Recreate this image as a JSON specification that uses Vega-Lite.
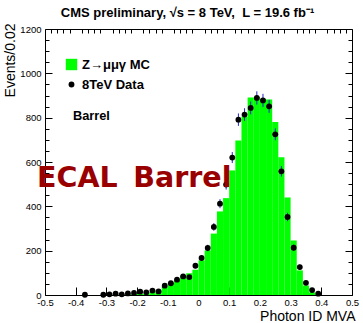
{
  "$schema": "https://vega.github.io/schema/vega-lite/v6.json",
  "width": 307,
  "height": 266,
  "autosize": {"type": "none"},
  "padding": {"left": 45, "top": 29, "right": 11, "bottom": 28},
  "background": "white",
  "view": {"stroke": "black", "strokeWidth": 1},
  "config": {"font": "Liberation Sans"},
  "title": {"text": "CMS preliminary, √s = 8 TeV,\u00a0 L = 19.6 fb⁻¹", "font": "Liberation Sans", "fontSize": 13, "fontWeight": "bold", "color": "black", "anchor": "middle", "frame": "group", "baseline": "alphabetic", "offset": -7, "dx": -11},
  "datasets": {
    "mc": [
      {"lo": -0.30, "hi": -0.28, "n": 1},
      {"lo": -0.28, "hi": -0.26, "n": 1},
      {"lo": -0.26, "hi": -0.24, "n": 2},
      {"lo": -0.24, "hi": -0.22, "n": 2},
      {"lo": -0.22, "hi": -0.20, "n": 3},
      {"lo": -0.20, "hi": -0.18, "n": 5},
      {"lo": -0.18, "hi": -0.16, "n": 6},
      {"lo": -0.16, "hi": -0.14, "n": 13},
      {"lo": -0.14, "hi": -0.12, "n": 20},
      {"lo": -0.12, "hi": -0.10, "n": 38},
      {"lo": -0.10, "hi": -0.08, "n": 55},
      {"lo": -0.08, "hi": -0.06, "n": 70},
      {"lo": -0.06, "hi": -0.04, "n": 88},
      {"lo": -0.04, "hi": -0.02, "n": 98},
      {"lo": -0.02, "hi": 0.00, "n": 114},
      {"lo": 0.00, "hi": 0.02, "n": 156},
      {"lo": 0.02, "hi": 0.04, "n": 201},
      {"lo": 0.04, "hi": 0.06, "n": 277},
      {"lo": 0.06, "hi": 0.08, "n": 377},
      {"lo": 0.08, "hi": 0.10, "n": 437},
      {"lo": 0.10, "hi": 0.12, "n": 562},
      {"lo": 0.12, "hi": 0.14, "n": 697},
      {"lo": 0.14, "hi": 0.16, "n": 805},
      {"lo": 0.16, "hi": 0.18, "n": 891},
      {"lo": 0.18, "hi": 0.20, "n": 893},
      {"lo": 0.20, "hi": 0.22, "n": 885},
      {"lo": 0.22, "hi": 0.24, "n": 882},
      {"lo": 0.24, "hi": 0.26, "n": 781},
      {"lo": 0.26, "hi": 0.28, "n": 621},
      {"lo": 0.28, "hi": 0.30, "n": 440},
      {"lo": 0.30, "hi": 0.32, "n": 246},
      {"lo": 0.32, "hi": 0.34, "n": 111},
      {"lo": 0.34, "hi": 0.36, "n": 43},
      {"lo": 0.36, "hi": 0.38, "n": 12},
      {"lo": 0.38, "hi": 0.40, "n": 1}
    ],
    "dat": [
      {"x": -0.37, "n": 1, "err": 1},
      {"x": -0.31, "n": 1, "err": 1},
      {"x": -0.29, "n": 3, "err": 1.7},
      {"x": -0.27, "n": 6, "err": 2.4},
      {"x": -0.25, "n": 3, "err": 1.7},
      {"x": -0.23, "n": 7, "err": 2.6},
      {"x": -0.21, "n": 9, "err": 3},
      {"x": -0.19, "n": 15, "err": 3.9},
      {"x": -0.17, "n": 12, "err": 3.5},
      {"x": -0.15, "n": 20, "err": 4.5},
      {"x": -0.13, "n": 16, "err": 4},
      {"x": -0.11, "n": 42, "err": 6.5},
      {"x": -0.09, "n": 53, "err": 7.3},
      {"x": -0.07, "n": 69, "err": 8.3},
      {"x": -0.05, "n": 84, "err": 9.2},
      {"x": -0.03, "n": 81, "err": 9},
      {"x": -0.01, "n": 132, "err": 11.5},
      {"x": 0.01, "n": 167, "err": 12.9},
      {"x": 0.03, "n": 212, "err": 14.6},
      {"x": 0.05, "n": 307, "err": 17.5},
      {"x": 0.07, "n": 412, "err": 20.3},
      {"x": 0.09, "n": 498, "err": 22.3},
      {"x": 0.11, "n": 620, "err": 24.9},
      {"x": 0.13, "n": 791, "err": 28.1},
      {"x": 0.15, "n": 814, "err": 28.5},
      {"x": 0.17, "n": 844, "err": 29.1},
      {"x": 0.19, "n": 889, "err": 29.8},
      {"x": 0.21, "n": 878, "err": 29.6},
      {"x": 0.23, "n": 851, "err": 29.2},
      {"x": 0.25, "n": 725, "err": 26.9},
      {"x": 0.27, "n": 558, "err": 23.6},
      {"x": 0.29, "n": 352, "err": 18.8},
      {"x": 0.31, "n": 213, "err": 14.6},
      {"x": 0.33, "n": 126, "err": 11.2},
      {"x": 0.35, "n": 55, "err": 7.4},
      {"x": 0.37, "n": 22, "err": 4.7},
      {"x": 0.39, "n": 6, "err": 2.4}
    ]
  },
  "layer": [
    {
      "data": {"name": "mc"},
      "mark": {"type": "bar", "strokeWidth": 0},
      "encoding": {
        "x": {
          "field": "lo", "type": "quantitative",
          "scale": {"domain": [-0.5, 0.5], "nice": false, "zero": false},
          "axis": {
            "values": [-0.5,-0.4,-0.3,-0.2,-0.1,0,0.1,0.2,0.3,0.4,0.5],
            "labelExpr": "'' + round(datum.value*10)/10",
            "tickSize": -8, "tickColor": "black", "tickWidth": 1,
            "domain": false, "grid": false,
            "labelFont": "Liberation Sans", "labelFontSize": 9.5, "labelColor": "black", "labelPadding": 10,
            "labelOverlap": false, "labelFlush": false,
            "title": "Photon ID MVA", "titleFont": "Liberation Sans", "titleFontSize": 14, "titleFontWeight": "normal", "titleColor": "black",
            "titleAlign": "right", "titleBaseline": "alphabetic", "titleX": 310, "titleY": 25
          }
        },
        "x2": {"field": "hi"},
        "y": {
          "field": "n", "type": "quantitative",
          "scale": {"domain": [0, 1200], "nice": false},
          "axis": {
            "values": [0,200,400,600,800,1000,1200],
            "labelExpr": "'' + datum.value",
            "tickSize": -7, "tickColor": "black", "tickWidth": 1,
            "domain": false, "grid": false,
            "labelFont": "Liberation Sans", "labelFontSize": 9.5, "labelColor": "black", "labelPadding": 11,
            "labelOverlap": false, "labelFlush": false,
            "title": "Events/0.02", "titleFont": "Liberation Sans", "titleFontSize": 14, "titleFontWeight": "normal", "titleColor": "black",
            "titleAngle": -90, "titleAlign": "right", "titleBaseline": "middle", "titleX": -35, "titleY": -6
          }
        },
        "y2": {"datum": 0},
        "color": {
          "datum": "Z→μμγ MC", "type": "nominal",
          "scale": {"domain": ["Z→μμγ MC", "8TeV Data"], "range": ["#00ff00", "#000000"]},
          "legend": {
            "orient": "none", "legendX": 20, "legendY": 29, "title": null, "padding": 0,
            "labelFont": "Liberation Sans", "labelFontSize": 13, "labelFontWeight": "bold", "labelColor": "black",
            "labelOffset": 4, "rowPadding": 6, "symbolStrokeWidth": 0, "symbolOpacity": 1, "labelLimit": 200
          }
        }
      }
    },
    {
      "data": {"name": "dat"},
      "mark": {"type": "errorbar", "color": "#2626c8", "thickness": 1},
      "encoding": {
        "x": {"field": "x", "type": "quantitative", "scale": {"domain": [-0.5, 0.5], "nice": false, "zero": false}, "axis": null},
        "y": {"field": "n", "type": "quantitative", "scale": {"domain": [0, 1200], "nice": false}, "axis": null},
        "yError": {"field": "err"}
      }
    },
    {
      "data": {"name": "dat"},
      "mark": {"type": "point", "filled": true, "opacity": 1, "strokeWidth": 0},
      "encoding": {
        "x": {"field": "x", "type": "quantitative", "scale": {"domain": [-0.5, 0.5], "nice": false, "zero": false}, "axis": null},
        "y": {
          "field": "n", "type": "quantitative", "scale": {"domain": [0, 1200], "nice": false},
          "axis": {
            "orient": "right", "title": null, "labels": false, "domain": false, "grid": false,
            "values": [50,100,150,250,300,350,450,500,550,650,700,750,850,900,950,1050,1100,1150],
            "tickSize": -4, "tickColor": "black", "tickWidth": 1
          }
        },
        "color": {"datum": "8TeV Data", "type": "nominal"},
        "shape": {"datum": "8TeV Data", "type": "nominal", "scale": {"domain": ["Z→μμγ MC", "8TeV Data"], "range": ["square", "circle"]}},
        "size": {"datum": "8TeV Data", "type": "nominal", "scale": {"domain": ["Z→μμγ MC", "8TeV Data"], "range": [130, 34]}}
      }
    },
    {
      "data": {"values": [{"label": "Barrel"}]},
      "mark": {"type": "text", "font": "Liberation Sans", "fontSize": 12.8, "fontWeight": "bold", "color": "black", "align": "left", "baseline": "alphabetic"},
      "encoding": {
        "text": {"field": "label"},
        "x": {
          "datum": -0.409, "type": "quantitative", "scale": {"domain": [-0.5, 0.5], "nice": false, "zero": false},
          "axis": {
            "title": null, "labels": false, "domain": false, "grid": false,
            "values": [-0.48,-0.46,-0.44,-0.42,-0.38,-0.36,-0.34,-0.32,-0.28,-0.26,-0.24,-0.22,-0.18,-0.16,-0.14,-0.12,-0.08,-0.06,-0.04,-0.02,0.02,0.04,0.06,0.08,0.12,0.14,0.16,0.18,0.22,0.24,0.26,0.28,0.32,0.34,0.36,0.38,0.42,0.44,0.46,0.48],
            "tickSize": -4, "tickColor": "black", "tickWidth": 1
          }
        },
        "y": {
          "datum": 789, "type": "quantitative", "scale": {"domain": [0, 1200], "nice": false},
          "axis": {
            "orient": "right", "title": null, "labels": false, "domain": false, "grid": false,
            "values": [0,200,400,600,800,1000,1200],
            "tickSize": -7, "tickColor": "black", "tickWidth": 1
          }
        }
      }
    },
    {
      "data": {"values": [{"label": "ECAL\u00a0\u2009Barrel"}]},
      "mark": {"type": "text", "font": "DejaVu Sans", "fontSize": 28.5, "fontWeight": "bold", "color": "#990000", "align": "left", "baseline": "alphabetic"},
      "encoding": {
        "text": {"field": "label"},
        "x": {"datum": -0.526, "type": "quantitative", "scale": {"domain": [-0.5, 0.5], "nice": false, "zero": false}, "axis": null},
        "y": {
          "datum": 489, "type": "quantitative", "scale": {"domain": [0, 1200], "nice": false},
          "axis": {
            "title": null, "labels": false, "domain": false, "grid": false,
            "values": [50,100,150,250,300,350,450,500,550,650,700,750,850,900,950,1050,1100,1150],
            "tickSize": -4, "tickColor": "black", "tickWidth": 1
          }
        }
      }
    }
  ],
  "resolve": {"axis": {"x": "independent", "y": "independent"}}
}
